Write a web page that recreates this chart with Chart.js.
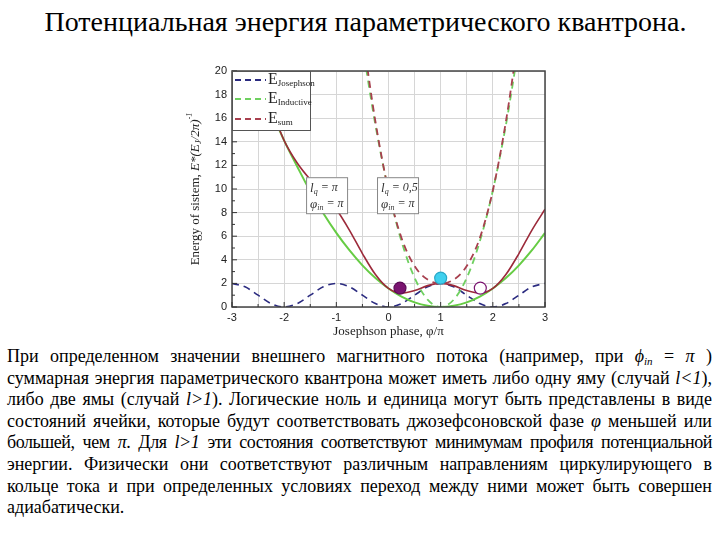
<!DOCTYPE html>
<html>
<head>
<meta charset="utf-8">
<script src="https://cdn.jsdelivr.net/npm/chart.js@4"></script>
<style>
  body { margin: 0; background: #fff; width: 720px; height: 540px; position: relative; overflow: hidden; font-family: "Liberation Serif", serif; color: #000; }
  #title { position: absolute; left: 0; top: 4px; width: 731px; text-align: center; font-size: 28px; line-height: 36px; }
  #wrap { position: absolute; left: 180px; top: 58px; width: 380px; height: 286px; }
  #text { position: absolute; left: 7px; top: 346px; width: 705px; font-size: 18px; line-height: 21.6px; }
  #text div { text-align: justify; text-align-last: justify; white-space: nowrap; }
  #text div.tight { letter-spacing: -0.45px; word-spacing: -1px; }
  #text div.last { text-align-last: left; }
  sub { font-size: 11px; vertical-align: -3px; line-height: 0; }
</style>
</head>
<body>
<div id="title">Потенциальная энергия параметрического квантрона.</div>
<div id="wrap"><canvas id="myChart"></canvas></div>
<div id="text">
  <div>При определенном значении внешнего магнитного потока (например, при <i>ϕ<sub>in</sub></i> = <i>π</i> )</div>
  <div>суммарная энергия параметрического квантрона может иметь либо одну яму (случай <i>l&lt;1</i>),</div>
  <div>либо две ямы (случай <i>l&gt;1</i>). Логические ноль и единица могут быть представлены в виде</div>
  <div>состояний ячейки, которые будут соответствовать джозефсоновской фазе <i>φ</i> меньшей или</div>
  <div class="tight">большей, чем <i>π</i>. Для <i>l&gt;1</i> эти состояния соответствуют минимумам профиля потенциальной</div>
  <div>энергии. Физически они соответствуют различным направлениям циркулирующего в</div>
  <div>кольце тока и при определенных условиях переход между ними может быть совершен</div>
  <div class="last">адиабатически.</div>
</div>
<script>
// phase, in units of pi
var phase = [-3, -2.75, -2.5, -2.25, -2, -1.75, -1.5, -1.25, -1, -0.75, -0.5, -0.25, 0,
             0.25, 0.5, 0.75, 1, 1.25, 1.5, 1.75, 2, 2.25, 2.5, 2.75, 3];
var eJosephson = [2, 1.71, 1, 0.29, 0, 0.29, 1, 1.71, 2, 1.71, 1, 0.29, 0,
                  0.29, 1, 1.71, 2, 1.71, 1, 0.29, 0, 0.29, 1, 1.71, 2];
// l = pi
var eInductivePi = [25.1, 22.1, 19.2, 16.6, 14.1, 11.9, 9.8, 7.95, 6.28, 4.81, 3.53, 2.45, 1.57,
                    0.88, 0.39, 0.1, 0, 0.1, 0.39, 0.88, 1.57, 2.45, 3.53, 4.81, 6.28];
var eSumPi = [27.1, 23.8, 20.2, 16.9, 14.1, 12.2, 10.8, 9.66, 8.28, 6.52, 4.53, 2.75, 1.57,
              1.17, 1.39, 1.81, 2, 1.81, 1.39, 1.17, 1.57, 2.75, 4.53, 6.52, 8.28];
// l = 0.5
var eInductiveHalf = [null, null, null, null, null, null, null, null, null, null, 22.2, 15.4, 9.87,
                      5.55, 2.47, 0.62, 0, 0.62, 2.47, 5.55, 9.87, 15.4, 22.2, null, null];
var eSumHalf = [null, null, null, null, null, null, null, null, null, null, 23.2, 15.7, 9.87,
                5.84, 3.47, 2.32, 2, 2.32, 3.47, 5.84, 9.87, 15.7, 23.2, null, null];
// states
var dotPhase = [0.22, 1.0, 1.76];
var dotEnergy = [1.6, 2.45, 1.6];
var xTicks = [-3, -2, -1, 0, 1, 2, 3];

var SERIF = '"Liberation Serif", serif';

function pts(ys) {
  return phase.map(function (x, i) { return { x: x, y: ys[i] }; })
              .filter(function (p) { return p.y !== null; });
}

function drawRich(ctx, segs, x, y) {
  segs.forEach(function (s) {
    ctx.font = s.f;
    ctx.fillText(s.t, x, y + (s.dy || 0));
    x += ctx.measureText(s.t).width;
  });
}
function richWidth(ctx, segs) {
  var w = 0;
  segs.forEach(function (s) { ctx.font = s.f; w += ctx.measureText(s.t).width; });
  return w;
}

var extras = {
  id: 'extras',
  afterDatasetsDraw: function (chart) {
    var ctx = chart.ctx, a = chart.chartArea;
    var xs = chart.scales.x, ys = chart.scales.y;
    ctx.save();

    // frame
    ctx.strokeStyle = '#444';
    ctx.lineWidth = 1.5;
    ctx.strokeRect(a.left, a.top, a.right - a.left, a.bottom - a.top);

    // inward ticks
    ctx.lineWidth = 1;
    ctx.strokeStyle = '#333';
    for (var v = 0; v <= 20; v++) {
      var py = ys.getPixelForValue(v);
      ctx.beginPath(); ctx.moveTo(a.left, py); ctx.lineTo(a.left + (v % 2 ? 3 : 5), py); ctx.stroke();
    }
    for (var u = -3; u <= 3; u += 0.5) {
      var px = xs.getPixelForValue(u);
      ctx.beginPath(); ctx.moveTo(px, a.bottom); ctx.lineTo(px, a.bottom - (u % 1 ? 3 : 5)); ctx.stroke();
    }

    // legend
    var lx = a.left, ly = a.top;
    ctx.fillStyle = '#fff';
    ctx.fillRect(lx, ly, 78, 59);
    ctx.strokeStyle = '#555';
    ctx.strokeRect(lx + 0.5, ly + 0.5, 78, 59);
    var leg = [['Josephson', '#2b2b80', 9], ['Inductive', '#6fd060', 28], ['sum', '#a8404f', 48]];
    leg.forEach(function (e) {
      ctx.strokeStyle = e[1];
      ctx.lineWidth = 2;
      ctx.setLineDash([6, 4]);
      ctx.beginPath(); ctx.moveTo(lx + 3, ly + e[2]); ctx.lineTo(lx + 34, ly + e[2]); ctx.stroke();
      ctx.setLineDash([]);
      ctx.fillStyle = '#222';
      ctx.textBaseline = 'middle';
      drawRich(ctx, [
        { t: 'E', f: '16px ' + SERIF },
        { t: e[0], f: '9px ' + SERIF, dy: 4 }
      ], lx + 36, ly + e[2]);
    });

    // parameter boxes
    var boxes = [[-1.58, 'π'], [-0.22, '0,5']];
    boxes.forEach(function (b) {
      var bx = xs.getPixelForValue(b[0]), by = ys.getPixelForValue(11);
      ctx.fillStyle = '#fff';
      ctx.fillRect(bx, by, 41, 36);
      ctx.strokeStyle = '#888';
      ctx.lineWidth = 1;
      ctx.strokeRect(bx + 0.5, by + 0.5, 41, 36);
      ctx.fillStyle = '#333';
      ctx.textBaseline = 'middle';
      drawRich(ctx, [
        { t: 'l', f: 'italic 13px ' + SERIF },
        { t: 'q', f: 'italic 8px ' + SERIF, dy: 4 },
        { t: ' = ' + b[1], f: 'italic 12px ' + SERIF }
      ], bx + 4, by + 11);
      drawRich(ctx, [
        { t: 'φ', f: 'italic 13px ' + SERIF },
        { t: 'in', f: 'italic 8px ' + SERIF, dy: 4 },
        { t: ' = π', f: 'italic 12px ' + SERIF }
      ], bx + 4, by + 27);
    });

    // axis titles
    ctx.fillStyle = '#222';
    ctx.textBaseline = 'middle';
    ctx.textAlign = 'center';
    ctx.font = '13px ' + SERIF;
    ctx.fillText('Josephson phase, φ/π', (a.left + a.right) / 2, a.bottom + 25);
    ctx.textAlign = 'left';
    var seg = [
      { t: 'Energy of sistem, ', f: '13px ' + SERIF },
      { t: 'E*(E', f: 'italic 13px ' + SERIF },
      { t: 'J', f: 'italic 9px ' + SERIF, dy: 3 },
      { t: '/2π)', f: 'italic 13px ' + SERIF },
      { t: '-1', f: 'italic 8px ' + SERIF, dy: -6 }
    ];
    ctx.translate(a.left - 36, (a.top + a.bottom) / 2);
    ctx.rotate(-Math.PI / 2);
    drawRich(ctx, seg, -richWidth(ctx, seg) / 2, 0);
    ctx.restore();
  }
};

var ctx = document.getElementById('myChart').getContext('2d');
var myChart = new Chart(ctx, {
  type: 'line',
  data: {
    datasets: [
      { label: 'states', type: 'scatter', data: dotPhase.map(function (x, i) { return { x: x, y: dotEnergy[i] }; }),
        pointRadius: 6, pointBorderWidth: 1.2,
        pointBackgroundColor: ['#7a1470', '#3fd0ee', '#ffffff'],
        pointBorderColor: ['#5a0a55', '#2aa8c8', '#7a1470'], order: 0 },
      { label: 'E Josephson', data: pts(eJosephson), borderColor: '#2b2b80', borderWidth: 1.6, borderDash: [7, 5], order: 5 },
      { label: 'E Inductive, l=pi', data: pts(eInductivePi), borderColor: '#66cc44', borderWidth: 2, order: 4 },
      { label: 'E sum, l=pi', data: pts(eSumPi), borderColor: '#9c2a3a', borderWidth: 1.6, order: 3 },
      { label: 'E Inductive, l=0.5', data: pts(eInductiveHalf), borderColor: '#6fd060', borderWidth: 1.8, borderDash: [7, 5], order: 2 },
      { label: 'E sum, l=0.5', data: pts(eSumHalf), borderColor: '#a8404f', borderWidth: 1.8, borderDash: [7, 5], order: 1 }
    ]
  },
  options: {
    responsive: true,
    maintainAspectRatio: false,
    animation: false,
    layout: { padding: { top: 13, right: 15, left: 0, bottom: 0 } },
    elements: {
      point: { radius: 0 },
      line: { cubicInterpolationMode: 'monotone', fill: false }
    },
    datasets: { line: { clip: 0 } },
    plugins: { legend: { display: false }, tooltip: { enabled: false } },
    scales: {
      x: {
        type: 'linear', min: -3, max: 3,
        afterFit: function (s) { s.height = 37; },
        afterBuildTicks: function (s) {
          var t = [];
          for (var v = -3; v <= 3; v += 0.5) t.push({ value: v });
          s.ticks = t;
        },
        ticks: {
          padding: 4, color: '#222', font: { family: 'Liberation Sans', size: 11 },
          callback: function (v) { return xTicks.indexOf(v) >= 0 ? String(v) : ''; },
          autoSkip: false, maxRotation: 0
        },
        grid: { color: '#d6d6d6', drawTicks: false },
        border: { display: false }
      },
      y: {
        min: 0, max: 20,
        afterFit: function (s) { s.width = 52; },
        ticks: { stepSize: 2, padding: 5, color: '#222', font: { family: 'Liberation Sans', size: 11 } },
        grid: { color: '#d6d6d6', drawTicks: false },
        border: { display: false }
      }
    }
  },
  plugins: [extras]
});
</script>
</body>
</html>
